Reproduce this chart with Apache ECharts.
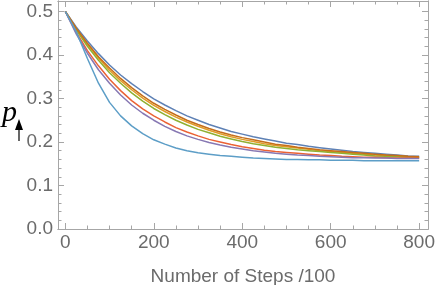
<!DOCTYPE html>
<html><head><meta charset="utf-8">
<script src="https://cdn.jsdelivr.net/npm/echarts@6/dist/echarts.min.js"></script>
<style>html,body{margin:0;padding:0;background:#fff}#c{width:436px;height:285px}</style>
</head><body><div id="c"></div>
<script>
const steps = [0,25,50,75,100,125,150,175,200,225,250,275,300,325,350,375,400,425,450,475,500,525,550,575,600,625,650,675,700,725,750,775,800];
const pBlue      = [0.5,0.464,0.432,0.403,0.377,0.354,0.334,0.316,0.299,0.285,0.272,0.260,0.250,0.240,0.232,0.224,0.218,0.212,0.207,0.202,0.197,0.194,0.190,0.187,0.184,0.181,0.178,0.176,0.174,0.172,0.170,0.168,0.167];
const pOrange    = [0.5,0.460,0.424,0.393,0.365,0.341,0.320,0.301,0.284,0.270,0.257,0.246,0.236,0.227,0.219,0.212,0.206,0.201,0.196,0.192,0.189,0.186,0.183,0.180,0.178,0.176,0.174,0.172,0.170,0.169,0.167,0.166,0.165];
const pGreen     = [0.5,0.457,0.420,0.388,0.359,0.335,0.313,0.294,0.277,0.263,0.250,0.239,0.229,0.221,0.213,0.207,0.201,0.196,0.192,0.188,0.185,0.182,0.180,0.178,0.176,0.174,0.172,0.170,0.168,0.167,0.166,0.165,0.164];
const pRed       = [0.5,0.452,0.410,0.375,0.344,0.318,0.295,0.276,0.260,0.246,0.233,0.223,0.214,0.206,0.200,0.194,0.189,0.185,0.181,0.178,0.176,0.174,0.172,0.170,0.169,0.167,0.166,0.165,0.165,0.164,0.163,0.163,0.163];
const pPurple    = [0.5,0.448,0.404,0.366,0.335,0.308,0.285,0.266,0.250,0.236,0.224,0.214,0.206,0.199,0.193,0.188,0.184,0.180,0.177,0.174,0.172,0.170,0.169,0.167,0.166,0.165,0.164,0.164,0.163,0.163,0.162,0.162,0.162];
const pDarkOrange= [0.5,0.461,0.427,0.396,0.370,0.346,0.325,0.306,0.289,0.275,0.262,0.250,0.240,0.231,0.223,0.216,0.210,0.205,0.200,0.195,0.192,0.188,0.185,0.182,0.180,0.178,0.176,0.174,0.172,0.170,0.169,0.167,0.166];
const pLightBlue = [0.5,0.453,0.392,0.335,0.291,0.260,0.237,0.219,0.205,0.195,0.186,0.180,0.175,0.172,0.169,0.167,0.165,0.163,0.162,0.161,0.160,0.160,0.159,0.159,0.158,0.158,0.158,0.157,0.157,0.157,0.157,0.157,0.157];
const xMajor = [0,200,400,600,800];
const xMinor = [50,100,150,250,300,350,450,500,550,650,700,750];
const yMajor = [0,0.1,0.2,0.3,0.4,0.5];
const yMinor = [0.02,0.04,0.06,0.08,0.12,0.14,0.16,0.18,0.22,0.24,0.26,0.28,0.32,0.34,0.36,0.38,0.42,0.44,0.46,0.48];
const xLabels = ['0','200','400','600','800'];
const yLabels = ['0.0','0.1','0.2','0.3','0.4','0.5'];

const seriesDefs = [
  ['blue', pBlue, '#5E81B5'],
  ['orange', pOrange, '#E19C24'],
  ['green', pGreen, '#8FB032'],
  ['red', pRed, '#EB6235'],
  ['purple', pPurple, '#8778B3'],
  ['darkorange', pDarkOrange, '#C56E1A'],
  ['lightblue', pLightBlue, '#5D9EC7']
];
const frame = '#a6a6a6';
const labelColor = '#6b6b6b';
const font = 'Liberation Sans';
const XMIN = -16.5, XMAX = 820, YMIN = 0, YMAX = 0.524;

function xAx(pos, vals, len, labels, extra) {
  return Object.assign({
    type: 'value', position: pos, min: XMIN, max: XMAX,
    axisLine: {show: true, onZero: false, lineStyle: {color: frame, width: 1}},
    axisTick: {show: true, inside: true, length: len, customValues: vals, lineStyle: {color: frame, width: 1}},
    axisLabel: labels ? {show: true, customValues: vals, formatter: v => xLabels[xMajor.indexOf(Math.round(v))] ?? '', color: labelColor, fontSize: 19, fontFamily: font, margin: 4} : {show: false},
    splitLine: {show: false}
  }, extra || {});
}
function yAx(pos, vals, len, labels) {
  return {
    type: 'value', position: pos, min: YMIN, max: YMAX,
    axisLine: {show: true, onZero: false, lineStyle: {color: frame, width: 1}},
    axisTick: {show: true, inside: true, length: len, customValues: vals, lineStyle: {color: frame, width: 1}},
    axisLabel: labels ? {show: true, customValues: vals, formatter: v => yLabels[yMajor.findIndex(t => Math.abs(t - v) < 1e-6)] ?? '', color: labelColor, fontSize: 19, fontFamily: font, margin: 5} : {show: false},
    splitLine: {show: false}
  };
}

const chart = echarts.init(document.getElementById('c'), null, {renderer: 'canvas'});
chart.setOption({
  animation: false,
  grid: {left: 58, right: 8, top: 1, bottom: 56, containLabel: false, outerBoundsMode: 'none'},
  xAxis: [
    xAx('bottom', xMajor, 6, true, {name: 'Number of Steps /100', nameLocation: 'middle', nameGap: 38, nameTextStyle: {color: labelColor, fontSize: 19, fontFamily: font}}),
    xAx('bottom', xMinor, 3.5, false),
    xAx('top', xMajor, 6, false),
    xAx('top', xMinor, 3.5, false)
  ],
  yAxis: [
    yAx('left', yMajor, 6, true),
    yAx('left', yMinor, 3.5, false),
    yAx('right', yMajor, 6, false),
    yAx('right', yMinor, 3.5, false)
  ],
  series: seriesDefs.map(([name, vals, color]) => ({
    name, type: 'line', xAxisIndex: 0, yAxisIndex: 0,
    data: steps.map((s, i) => [s, vals[i]]),
    showSymbol: false, smooth: false,
    lineStyle: {color, width: 1.5}, itemStyle: {color}, z: 2
  })),
  graphic: [
    {type: 'text', left: 2, top: 98, style: {text: 'p', font: 'italic 30px "Liberation Serif"', fill: '#000'}},
    {type: 'line', shape: {x1: 19, y1: 125, x2: 19, y2: 141}, style: {stroke: '#000', lineWidth: 1.2}},
    {type: 'polygon', shape: {points: [[15, 130], [19, 119], [23, 130]]}, style: {fill: '#000'}}
  ]
});
</script>
</body></html>
